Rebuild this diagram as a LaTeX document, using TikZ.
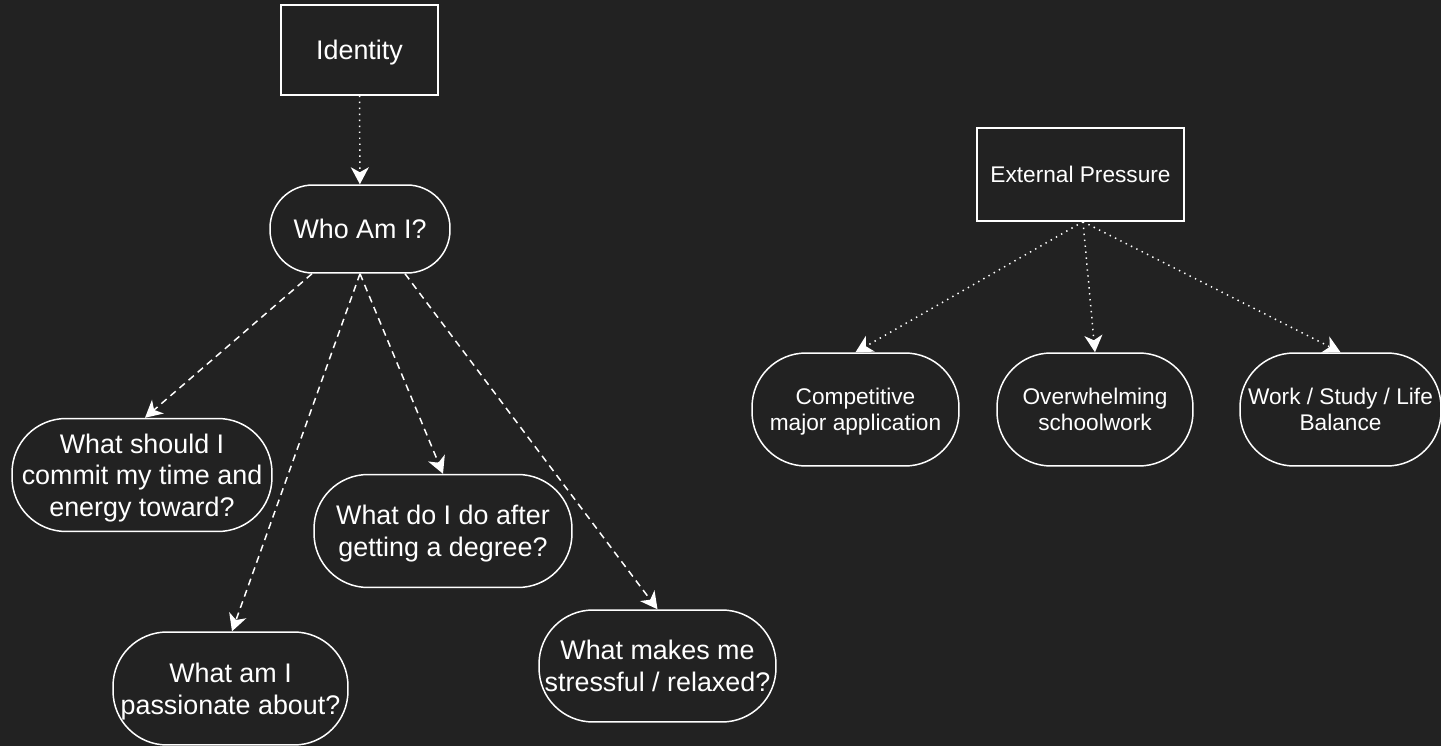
\documentclass[tikz,border=0pt]{standalone}
\usepackage{fontspec}
\setmainfont{Liberation Sans}
\usepackage{xcolor}
\usepackage{tikz}
\usetikzlibrary{arrows.meta}

\definecolor{bgdark}{HTML}{222222}

\begin{document}
\begin{tikzpicture}[x=0.02cm, y=-0.02cm,
    box/.style={draw=white, line width=0.85pt, fill=bgdark, text=white,
        inner sep=0pt, align=center, text depth=0pt},
    bubble/.style={box, rounded corners=1.08cm},
    bigtext/.style={font=\fontsize{15.3}{18}\selectfont},
    smalltext/.style={font=\fontsize{12.9}{15}\selectfont},
    link/.style={draw=white, line width=0.85pt,
        -{Stealth[length=0.34cm, width=0.36cm, inset=0.1cm]}},
    dashlink/.style={link, dash pattern=on 0.14cm off 0.1cm},
    dotlink/.style={link, dash pattern=on 0.8pt off 2.6pt}]
    % Nền
    \fill[bgdark] (0,0) rectangle (1441,746);
    \useasboundingbox (0,0) rectangle (1441,746);

    % Nhánh bên trái
    \node[box, bigtext, minimum width=3.14cm, minimum height=1.8cm] (identity) at (359.5,50) {Identity};
    \node[bubble, bigtext, rounded corners=0.86cm, minimum width=3.6cm, minimum height=1.76cm] (who) at (360,229) {Who Am I?};
    \node[bubble, bigtext, minimum width=5.2cm, minimum height=2.26cm] (commit) at (142,475)
        {What should I\\commit my time and\\energy toward?};
    \node[bubble, bigtext, minimum width=5.16cm, minimum height=2.26cm] (degree) at (443,531)
        {What do I do after\\getting a degree?};
    \node[bubble, bigtext, minimum width=4.7cm, minimum height=2.26cm] (passion) at (230.5,688.5)
        {What am I\\passionate about?};
    \node[bubble, bigtext, minimum width=4.74cm, minimum height=2.24cm] (stress) at (657.5,666)
        {What makes me\\stressful / relaxed?};

    % Nhánh bên phải
    \node[box, smalltext, minimum width=4.14cm, minimum height=1.86cm] (pressure) at (1080.5,174.5) {External Pressure};
    \node[bubble, smalltext, minimum width=4.14cm, minimum height=2.26cm] (major) at (855.5,409.5)
        {Competitive\\major application};
    \node[bubble, smalltext, minimum width=3.92cm, minimum height=2.26cm] (school) at (1095,409.5)
        {Overwhelming\\schoolwork};
    \node[bubble, smalltext, minimum width=4.02cm, minimum height=2.26cm] (balance) at (1340.5,409.5)
        {Work / Study / Life\\Balance};

    % Các mũi tên
    \draw[dotlink] (identity) -- (who);
    \draw[dashlink] ([xshift=-0.96cm]who.south) -- ([xshift=0.06cm]commit.north);
    \draw[dashlink] (who.south) -- ([xshift=0.03cm]passion.north);
    \draw[dashlink] (who.south) -- (degree.north);
    \draw[dashlink] ([xshift=0.9cm]who.south) -- (stress.north);
    \foreach \kid in {major, school, balance} {
        \draw[dotlink] ([xshift=0.05cm]pressure.south) -- (\kid.north);
    }
\end{tikzpicture}
\end{document}
